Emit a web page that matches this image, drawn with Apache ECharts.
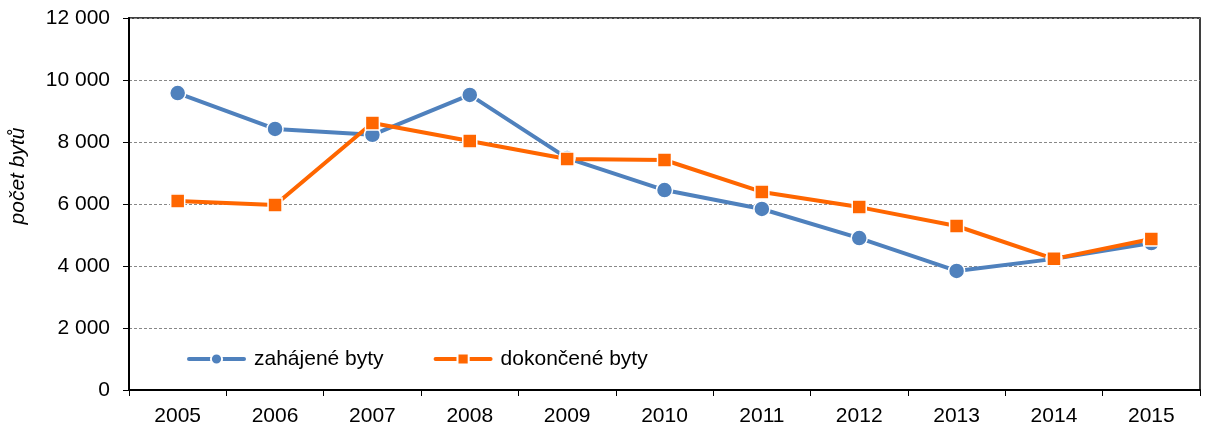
<!DOCTYPE html>
<html><head><meta charset="utf-8">
<script src="https://cdn.jsdelivr.net/npm/echarts@6/dist/echarts.min.js"></script>
<style>html,body{margin:0;padding:0;background:#fff}#c{width:1206px;height:425px}</style>
</head><body><div id="c"></div>
<script>
const years = ['2005','2006','2007','2008','2009','2010','2011','2012','2013','2014','2015'];
const zahajene = [9580, 8420, 8230, 9520, 7480, 6450, 5840, 4900, 3840, 4230, 4740];
const dokoncene = [6100, 5970, 8610, 8030, 7450, 7420, 6390, 5900, 5290, 4230, 4870];
const seriesNames = ['zahájené byty', 'dokončené byty'];
const yTitle = 'počet bytů';

const FONT = 'Liberation Sans, Arial, sans-serif';
const chart = echarts.init(document.getElementById('c'), null, {renderer: 'canvas'});
const fmt = v => { const s = String(v); return s.length > 3 ? s.slice(0, s.length-3) + ' ' + s.slice(-3) : s; };
chart.setOption({
  animation: false,
  textStyle: {fontFamily: FONT},
  grid: {left: 129, right: 6, top: 18, bottom: 35, outerBoundsMode: 'none', containLabel: false,
         show: true, borderColor: '#000', borderWidth: 1.5, backgroundColor: 'transparent'},
  legend: {
    left: 182, top: 342, itemWidth: 55, itemHeight: 14, itemGap: 50,
    lineStyle: {width: 4, cap: 'round'},
    textStyle: {fontSize: 21, color: '#000', fontFamily: FONT, lineHeight: 24, padding: [0, 0, 0, 5]},
    data: seriesNames
  },
  xAxis: {
    type: 'category', data: years, boundaryGap: true,
    axisLine: {lineStyle: {color: '#000', width: 2}},
    axisTick: {show: true, inside: false, length: 6, lineStyle: {color: '#000', width: 1}},
    axisLabel: {fontSize: 21, color: '#000', margin: 16, fontFamily: FONT}
  },
  yAxis: {
    type: 'value', min: 0, max: 12000, interval: 2000,
    name: yTitle, nameLocation: 'middle', nameGap: 100, nameRotate: 90,
    nameTextStyle: {fontSize: 21, fontStyle: 'italic', color: '#000', fontFamily: FONT, padding: [0, 0, 0, 56]},
    axisLine: {show: true, lineStyle: {color: '#000', width: 2}},
    axisTick: {show: true, inside: false, length: 6, lineStyle: {color: '#000'}},
    axisLabel: {fontSize: 21, color: '#000', margin: 19, formatter: fmt, fontFamily: FONT},
    splitLine: {lineStyle: {color: '#888', type: [3, 2], width: 1}}
  },
  series: [
    {name: seriesNames[0], type: 'line', data: zahajene, symbol: 'circle', symbolSize: 16,
     lineStyle: {color: '#4f81bd', width: 4}, itemStyle: {color: '#4f81bd', borderColor: '#fff', borderWidth: 1.5}},
    {name: seriesNames[1], type: 'line', data: dokoncene, symbol: 'rect', symbolSize: 14,
     lineStyle: {color: '#ff6600', width: 4}, itemStyle: {color: '#ff6600', borderColor: '#fff', borderWidth: 1.5}}
  ]
});
</script></body></html>
